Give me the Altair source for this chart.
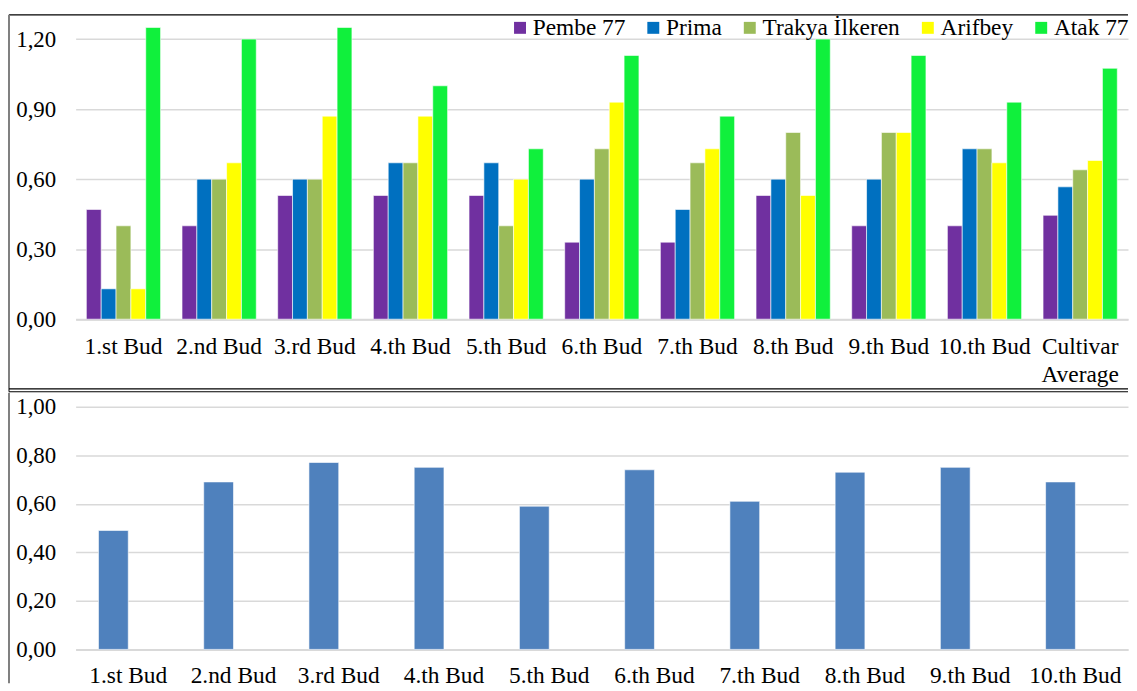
import altair as alt
import pandas as pd

# ---------------- data ----------------
buds = ["1.st Bud", "2.nd Bud", "3.rd Bud", "4.th Bud", "5.th Bud",
        "6.th Bud", "7.th Bud", "8.th Bud", "9.th Bud", "10.th Bud",
        "Cultivar Average"]
cultivars = ["Pembe 77", "Prima", "Trakya İlkeren", "Arifbey", "Atak 77"]
pembe77 = [0.47, 0.40, 0.53, 0.53, 0.53, 0.33, 0.33, 0.53, 0.40, 0.40, 0.445]
prima = [0.13, 0.60, 0.60, 0.67, 0.67, 0.60, 0.47, 0.60, 0.60, 0.73, 0.567]
trakya = [0.40, 0.60, 0.60, 0.67, 0.40, 0.73, 0.67, 0.80, 0.80, 0.73, 0.64]
arifbey = [0.13, 0.67, 0.87, 0.87, 0.60, 0.93, 0.73, 0.53, 0.80, 0.67, 0.68]
atak77 = [1.25, 1.20, 1.25, 1.00, 0.73, 1.13, 0.87, 1.20, 1.13, 0.93, 1.075]
colors = ["#7030A0", "#0070C0", "#9BBB59", "#FFFF00", "#10F03C"]
top_ticks = [0.0, 0.3, 0.6, 0.9, 1.2]

bottom_buds = buds[:10]
bud_average = [0.49, 0.69, 0.77, 0.75, 0.59, 0.74, 0.61, 0.73, 0.75, 0.69]
bottom_ticks = [0.0, 0.2, 0.4, 0.6, 0.8, 1.0]

series = [pembe77, prima, trakya, arifbey, atak77]
rows = []
for name, vals in zip(cultivars, series):
    for b, v in zip(buds, vals):
        rows.append({"Bud": b, "Cultivar": name, "value": v})
df_top = pd.DataFrame(rows)
df_bottom = pd.DataFrame({"Bud": bottom_buds, "value": bud_average,
                          "s": ["s1"] * len(bottom_buds)})

FONT = "Liberation Serif"
GRID = "#d9d9d9"
W1, H1 = 1058, 305
W2, H2 = 1058, 244
fmt = "replace(format(datum.value, '.2f'), '.', ',')"

one = pd.DataFrame({"d": [0]})

# ---------------- top chart ----------------
bars_top = alt.Chart(df_top).mark_bar(stroke="white", strokeWidth=0.6).encode(
    x=alt.X("Bud:N", sort=buds, title=None,
            scale=alt.Scale(paddingInner=0.224, paddingOuter=0.112),
            axis=alt.Axis(labelAngle=0, ticks=False, domainColor=GRID, domainWidth=2,
                          labelFont=FONT, labelFontSize=23.5, labelColor="black",
                          labelPadding=16, labelLineHeight=28,
                          labelExpr="datum.value == 'Cultivar Average' ? ['Cultivar', 'Average'] : datum.label")),
    xOffset=alt.XOffset("Cultivar:N", sort=cultivars, scale=alt.Scale(domain=cultivars)),
    y=alt.Y("value:Q", title=None,
            scale=alt.Scale(domain=[0, 1.3], nice=False),
            axis=alt.Axis(values=top_ticks, domain=False, ticks=False, gridColor=GRID,
                          gridWidth=1.5, labelFont=FONT, labelFontSize=23,
                          labelColor="black", labelPadding=20, labelExpr=fmt)),
    color=alt.Color("Cultivar:N", sort=cultivars,
                    scale=alt.Scale(domain=cultivars, range=colors),
                    legend=alt.Legend(title=None, orient="none", legendX=435, legendY=0,
                                      direction="horizontal", columns=5,
                                      symbolType="square", symbolSize=144,
                                      symbolStrokeWidth=0, labelFont=FONT,
                                      labelFontSize=23.5, labelColor="black",
                                      labelOffset=1, columnPadding=16, padding=0)),
)

top_line = alt.Chart(one).mark_rule(color="black", strokeWidth=1.2).encode(
    x=alt.value(-67), x2=alt.value(W1), y=alt.value(-1))
left_line_top = alt.Chart(one).mark_rule(color="#808080", strokeWidth=2).encode(
    x=alt.value(-67), y=alt.value(-1), y2=alt.value(378))
sep1 = alt.Chart(one).mark_rule(color="black", strokeWidth=1.2).encode(
    x=alt.value(-67), x2=alt.value(W1), y=alt.value(375))
sep2 = alt.Chart(one).mark_rule(color="black", strokeWidth=1.2).encode(
    x=alt.value(-67), x2=alt.value(W1), y=alt.value(378))

top = alt.layer(bars_top, top_line, left_line_top, sep1, sep2).properties(
    width=W1, height=H1)

# ---------------- bottom chart ----------------
bars_bottom = alt.Chart(df_bottom).mark_bar(color="#4F81BD", stroke="white", strokeWidth=0.6).encode(
    x=alt.X("Bud:N", sort=bottom_buds, title=None,
            scale=alt.Scale(paddingInner=0.434, paddingOuter=0.217),
            axis=alt.Axis(labelAngle=0, ticks=False, domainColor=GRID, domainWidth=2,
                          labelFont=FONT, labelFontSize=23.5, labelColor="black",
                          labelPadding=14)),
    xOffset=alt.XOffset("s:N", scale=alt.Scale(domain=["s1", "s2"])),
    y=alt.Y("value:Q", title=None,
            scale=alt.Scale(domain=[0, 1.0], nice=False),
            axis=alt.Axis(values=bottom_ticks, domain=False, ticks=False, gridColor=GRID,
                          gridWidth=1.5, labelFont=FONT, labelFontSize=23,
                          labelColor="black", labelPadding=20, labelExpr=fmt)),
)
left_line_bottom = alt.Chart(one).mark_rule(color="#808080", strokeWidth=2).encode(
    x=alt.value(-67), y=alt.value(-14), y2=alt.value(H2 + 34))

bottom = alt.layer(bars_bottom, left_line_bottom).properties(width=W2, height=H2)

chart = alt.vconcat(top, bottom, spacing=-1).properties(
    padding={"left": 0, "top": 4, "right": 0, "bottom": 0}
).resolve_scale(
    color="independent", x="independent", y="independent", xOffset="independent"
).configure_view(stroke=None)

chart.save("out.html", embed_options={"renderer": "svg", "actions": False})
